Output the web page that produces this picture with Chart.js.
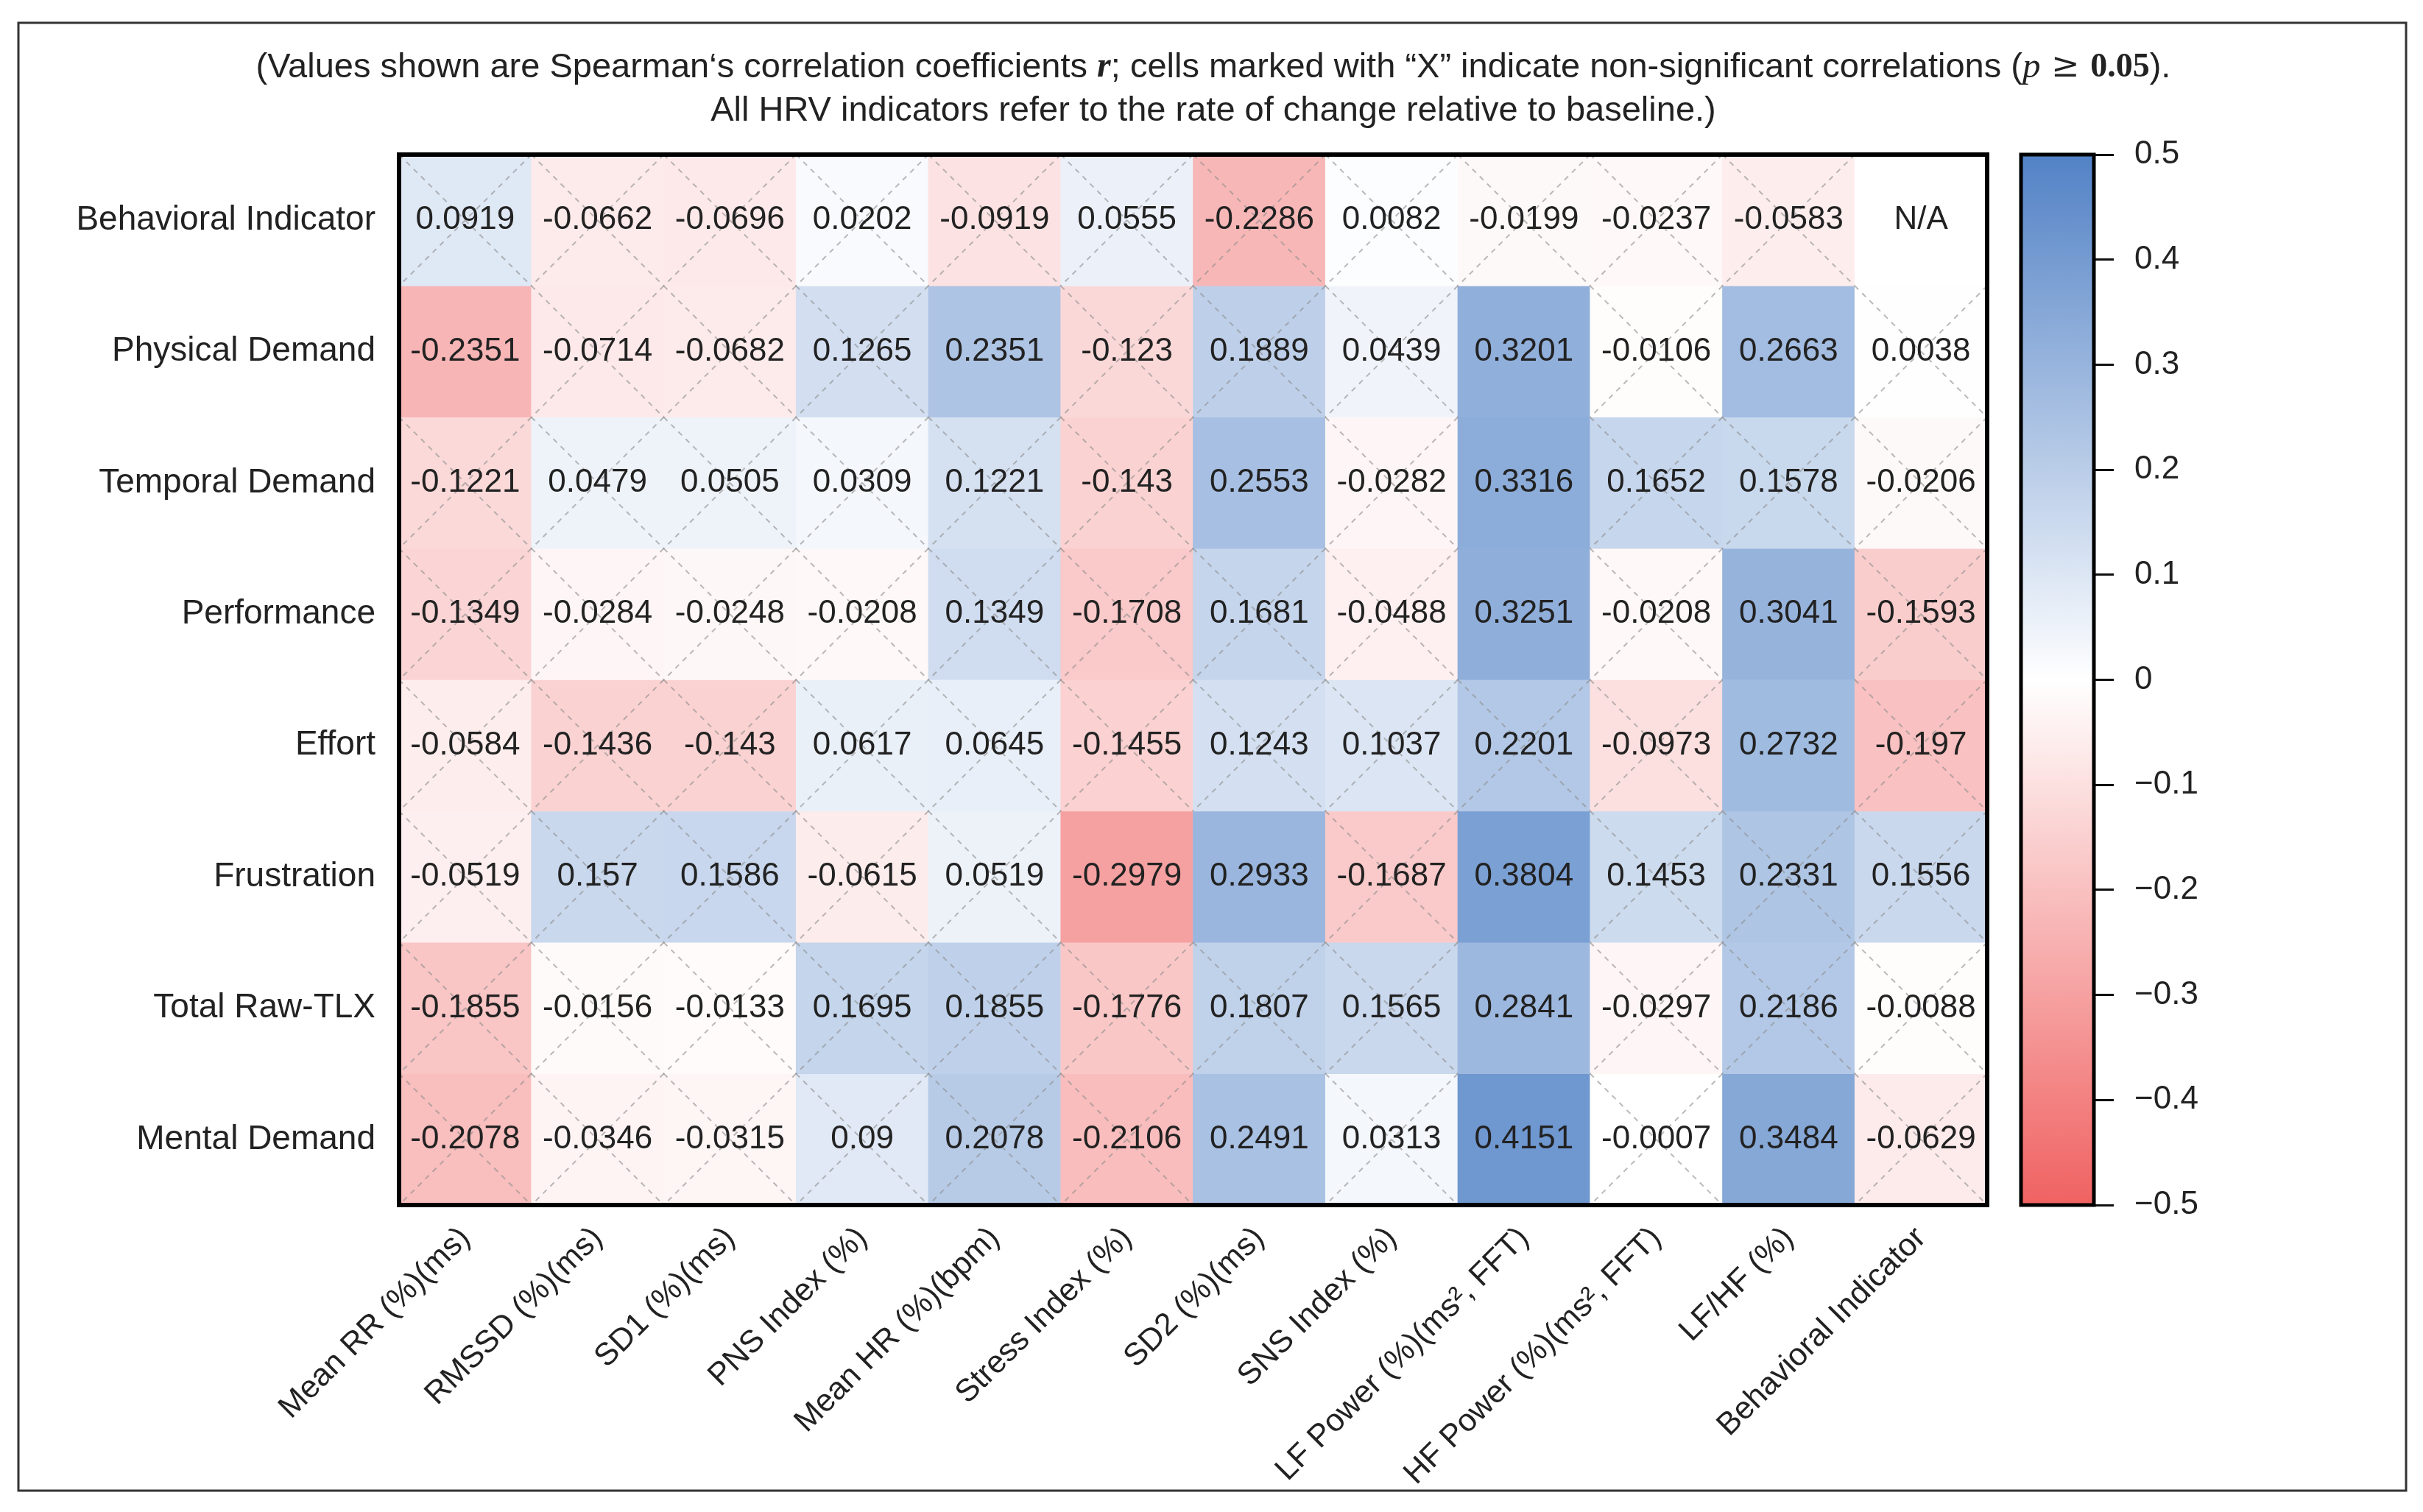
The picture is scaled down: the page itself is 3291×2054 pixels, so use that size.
<!DOCTYPE html>
<html>
<head>
<meta charset="utf-8">
<title>Spearman correlation heatmap</title>
<script src="https://cdn.jsdelivr.net/npm/chart.js@4.4.1/dist/chart.umd.min.js"></script>
<style>
  html, body { margin: 0; padding: 0; background: #fff; }
  #wrap { position: relative; width: 3291px; height: 2054px; overflow: hidden; }
  #heat { position: absolute; left: 0; top: 0; }
  #bar { position: absolute; left: 2700px; top: 0; }
</style>
</head>
<body>
<div id="wrap">
  <canvas id="heat" width="3291" height="2054"></canvas>
  <canvas id="bar" width="500" height="2054"></canvas>
</div>
<script>
// rows top -> bottom, columns left -> right
const rowNames = ['Behavioral Indicator', 'Physical Demand', 'Temporal Demand', 'Performance',
                  'Effort', 'Frustration', 'Total Raw-TLX', 'Mental Demand'];
const colNames = ['Mean RR (%)(ms)', 'RMSSD (%)(ms)', 'SD1 (%)(ms)', 'PNS Index (%)', 'Mean HR (%)(bpm)',
                  'Stress Index (%)', 'SD2 (%)(ms)', 'SNS Index (%)', 'LF Power (%)(ms², FFT)',
                  'HF Power (%)(ms², FFT)', 'LF/HF (%)', 'Behavioral Indicator'];

// Spearman r per row (null = N/A)
const rBehavioral  = [0.0919, -0.0662, -0.0696, 0.0202, -0.0919, 0.0555, -0.2286, 0.0082, -0.0199, -0.0237, -0.0583, null];
const rPhysical    = [-0.2351, -0.0714, -0.0682, 0.1265, 0.2351, -0.123, 0.1889, 0.0439, 0.3201, -0.0106, 0.2663, 0.0038];
const rTemporal    = [-0.1221, 0.0479, 0.0505, 0.0309, 0.1221, -0.143, 0.2553, -0.0282, 0.3316, 0.1652, 0.1578, -0.0206];
const rPerformance = [-0.1349, -0.0284, -0.0248, -0.0208, 0.1349, -0.1708, 0.1681, -0.0488, 0.3251, -0.0208, 0.3041, -0.1593];
const rEffort      = [-0.0584, -0.1436, -0.143, 0.0617, 0.0645, -0.1455, 0.1243, 0.1037, 0.2201, -0.0973, 0.2732, -0.197];
const rFrustration = [-0.0519, 0.157, 0.1586, -0.0615, 0.0519, -0.2979, 0.2933, -0.1687, 0.3804, 0.1453, 0.2331, 0.1556];
const rTotalTLX    = [-0.1855, -0.0156, -0.0133, 0.1695, 0.1855, -0.1776, 0.1807, 0.1565, 0.2841, -0.0297, 0.2186, -0.0088];
const rMental      = [-0.2078, -0.0346, -0.0315, 0.09, 0.2078, -0.2106, 0.2491, 0.0313, 0.4151, -0.0007, 0.3484, -0.0629];

// 1 = marked with "X" (non-significant)
const xBehavioral  = [1, 1, 1, 1, 1, 1, 1, 1, 1, 1, 1, 0];
const xPhysical    = [0, 1, 1, 1, 0, 1, 1, 1, 0, 1, 0, 1];
const xTemporal    = [1, 1, 1, 1, 1, 1, 0, 1, 0, 1, 1, 1];
const xPerformance = [1, 1, 1, 1, 1, 1, 1, 1, 0, 1, 0, 1];
const xEffort      = [1, 1, 1, 1, 1, 1, 1, 1, 1, 1, 0, 1];
const xFrustration = [1, 1, 1, 1, 1, 0, 0, 1, 0, 1, 1, 1];
const xTotalTLX    = [1, 1, 1, 1, 1, 1, 1, 1, 0, 1, 1, 1];
const xMental      = [1, 1, 1, 1, 1, 1, 0, 1, 0, 1, 0, 1];

const colorbarTicks = [-0.5, -0.4, -0.3, -0.2, -0.1, 0, 0.1, 0.2, 0.3, 0.4, 0.5];

const rowValues = [rBehavioral, rPhysical, rTemporal, rPerformance, rEffort, rFrustration, rTotalTLX, rMental];
const rowMarks = [xBehavioral, xPhysical, xTemporal, xPerformance, xEffort, xFrustration, xTotalTLX, xMental];

const FONT = '"Liberation Sans", Arial, sans-serif';
const NEG = [240, 98, 98];
const POS = [82, 130, 198];

function colorFor(v) {
    if (v === null) return '#ffffff';
    const t = Math.min(1, Math.abs(v) / 0.5);
    const end = v < 0 ? NEG : POS;
    const c = end.map(e => Math.round(255 + (e - 255) * t));
    return `rgb(${c[0]},${c[1]},${c[2]})`;
}

const nRows = rowNames.length;

const datasets = rowValues.map((vals, i) => ({
    label: rowNames[i],
    data: vals.map(() => [nRows - 1 - i, nRows - i]),
    backgroundColor: vals.map(colorFor),
    borderWidth: 0,
    barPercentage: 1,
    categoryPercentage: 1,
    grouped: false,
}));

const cellText = {
    id: 'cellText',
    afterDatasetsDraw(chart) {
        const ctx = chart.ctx;
        ctx.save();
        chart.data.datasets.forEach((ds, i) => {
            const meta = chart.getDatasetMeta(i);
            meta.data.forEach((bar, j) => {
                const p = bar.getProps(['x', 'y', 'base', 'width'], true);
                const l = p.x - p.width / 2, r = p.x + p.width / 2;
                const t = Math.min(p.y, p.base), b = Math.max(p.y, p.base);
                if (rowMarks[i][j]) {
                    ctx.strokeStyle = 'rgba(140,140,140,0.6)';
                    ctx.lineWidth = 2;
                    ctx.setLineDash([7, 7]);
                    ctx.beginPath();
                    ctx.moveTo(l, t); ctx.lineTo(r, b);
                    ctx.moveTo(r, t); ctx.lineTo(l, b);
                    ctx.stroke();
                    ctx.setLineDash([]);
                }
                const v = rowValues[i][j];
                ctx.fillStyle = '#222';
                ctx.font = `44px ${FONT}`;
                ctx.textAlign = 'center';
                ctx.textBaseline = 'middle';
                ctx.fillText(v === null ? 'N/A' : String(v), p.x, (t + b) / 2);
            });
        });
        ctx.restore();
    },
    afterDraw(chart) {
        const ctx = chart.ctx;
        const a = chart.chartArea;
        ctx.save();
        // heatmap frame
        ctx.strokeStyle = '#000';
        ctx.lineWidth = 6;
        ctx.strokeRect(a.left, a.top, a.right - a.left, a.bottom - a.top);
        // outer figure frame
        ctx.strokeStyle = '#333';
        ctx.lineWidth = 3;
        ctx.strokeRect(25, 31, 3243, 1994);

        // caption
        const sans = `47px ${FONT}`;
        const line1 = [
            { t: '(Values shown are Spearman‘s correlation coefficients ', f: sans },
            { t: 'r', f: 'italic bold 48px "Liberation Serif", serif' },
            { t: '; cells marked with “X” indicate non-significant correlations (', f: sans },
            { t: 'p', f: 'italic 49px "Liberation Serif", serif' },
            { t: ' ≥ ', f: '46px "DejaVu Serif", serif' },
            { t: '0.05', f: 'bold 46px "Liberation Serif", serif' },
            { t: ').', f: sans },
        ];
        ctx.fillStyle = '#222';
        ctx.textBaseline = 'middle';
        ctx.textAlign = 'left';
        let total = 0;
        line1.forEach(s => { ctx.font = s.f; s.w = ctx.measureText(s.t).width; total += s.w; });
        let x = 1648 - total / 2;
        line1.forEach(s => { ctx.font = s.f; ctx.fillText(s.t, x, 92); x += s.w; });
        ctx.font = sans;
        ctx.textAlign = 'center';
        ctx.fillText('All HRV indicators refer to the rate of change relative to baseline.)', 1648, 151);
        ctx.restore();
    }
};

new Chart(document.getElementById('heat'), {
    type: 'bar',
    data: { labels: colNames, datasets },
    options: {
        responsive: false,
        animation: false,
        devicePixelRatio: 1,
        layout: { padding: { left: 0, top: 210, right: 592, bottom: 0 } },
        plugins: { legend: { display: false }, tooltip: { enabled: false } },
        scales: {
            x: {
                type: 'category',
                grid: { display: false },
                border: { display: false },
                ticks: {
                    autoSkip: false, minRotation: 45, maxRotation: 45, padding: 12,
                    color: '#222', font: { family: FONT, size: 43 },
                },
                afterFit(scale) { scale.height = 417; },
            },
            y: {
                type: 'linear', min: 0, max: nRows,
                grid: { display: false },
                border: { display: false },
                afterBuildTicks(scale) {
                    scale.ticks = rowNames.map((_, i) => ({ value: nRows - 0.5 - i }));
                },
                ticks: {
                    padding: 24, color: '#222', font: { family: FONT, size: 46 },
                    callback: (v, idx) => rowNames[idx],
                },
                afterFit(scale) { scale.width = 542; },
            },
        },
    },
    plugins: [cellText],
});

// colour bar
const barFrame = {
    id: 'barFrame',
    afterDraw(chart) {
        const a = chart.chartArea, ctx = chart.ctx;
        ctx.save();
        ctx.strokeStyle = '#000';
        ctx.lineWidth = 5;
        ctx.strokeRect(a.left, a.top, a.right - a.left, a.bottom - a.top);
        ctx.restore();
    }
};

new Chart(document.getElementById('bar'), {
    type: 'bar',
    data: {
        labels: ['r'],
        datasets: [{
            data: [[colorbarTicks[0], colorbarTicks[colorbarTicks.length - 1]]],
            borderWidth: 0,
            barPercentage: 1,
            categoryPercentage: 1,
            backgroundColor(context) {
                const chart = context.chart;
                const a = chart.chartArea;
                if (!a) return '#fff';
                const g = chart.ctx.createLinearGradient(0, a.bottom, 0, a.top);
                const lo = colorbarTicks[0], hi = colorbarTicks[colorbarTicks.length - 1];
                colorbarTicks.forEach(v => g.addColorStop((v - lo) / (hi - lo), colorFor(v)));
                return g;
            },
        }],
    },
    options: {
        responsive: false,
        animation: false,
        devicePixelRatio: 1,
        layout: { padding: { left: 45, top: 210, right: 0, bottom: 417 } },
        plugins: { legend: { display: false }, tooltip: { enabled: false } },
        scales: {
            x: { display: false },
            y: {
                position: 'right',
                min: -0.5, max: 0.5,
                border: { display: false },
                grid: { drawOnChartArea: false, drawTicks: true, tickLength: 27, color: '#111', lineWidth: 3 },
                afterBuildTicks(scale) {
                    scale.ticks = colorbarTicks.map(v => ({ value: v }));
                },
                ticks: {
                    padding: 28, color: '#222', font: { family: FONT, size: 44 },
                    callback(v) {
                        const n = Math.round(v * 10) / 10;
                        return n < 0 ? '\u2212' + Math.abs(n) : String(n);
                    },
                },
                afterFit(scale) { scale.width = 356; },
            },
        },
    },
    plugins: [barFrame],
});
</script>
</body>
</html>
